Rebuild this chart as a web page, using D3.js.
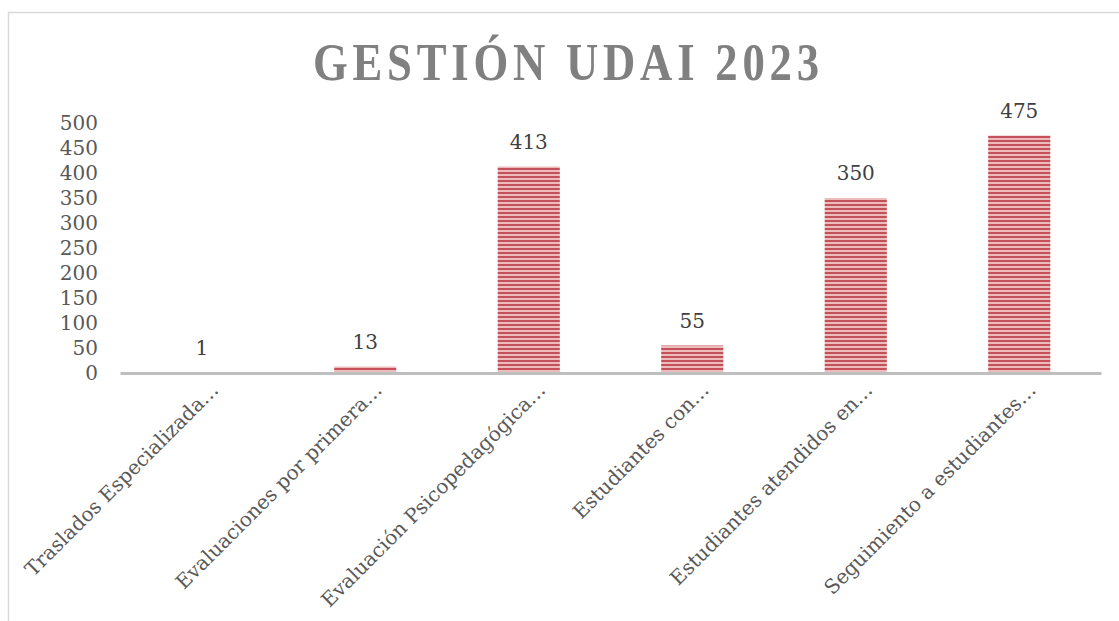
<!DOCTYPE html>
<html>
<head>
<meta charset="utf-8">
<title>Gestión UDAI 2023</title>
<script src="https://cdn.jsdelivr.net/npm/d3@7"></script>
<style>
  body { margin: 0; background: #fff; }
  text { font-family: "DejaVu Serif", "Liberation Serif", serif; }
</style>
</head>
<body>
<script>
var categorias = [
  "Traslados Especializada…",
  "Evaluaciones por primera…",
  "Evaluación Psicopedagógica…",
  "Estudiantes con…",
  "Estudiantes atendidos en…",
  "Seguimiento a estudiantes…"
];
var valores = [1, 13, 413, 55, 350, 475];
var ticksY = [0, 50, 100, 150, 200, 250, 300, 350, 400, 450, 500];
var titulo = "GESTIÓN UDAI 2023";

var width = 1119, height = 621;
var svg = d3.select("body").append("svg")
  .attr("width", width).attr("height", height);

// rayas horizontales de las barras
var defs = svg.append("defs");
var pat = defs.append("pattern")
  .attr("id", "rayas")
  .attr("patternUnits", "userSpaceOnUse")
  .attr("width", 8).attr("height", 4);
pat.append("rect").attr("width", 8).attr("height", 4).attr("fill", "#ecbcbc");
pat.append("rect").attr("width", 8).attr("height", 2).attr("fill", "#c4505a");

// marco del gráfico
svg.append("rect")
  .attr("x", 8.5).attr("y", 12.5)
  .attr("width", 1200).attr("height", 700)
  .attr("fill", "none")
  .attr("stroke", "#d9d9d9")
  .attr("stroke-width", 1.5);

var x = d3.scaleBand()
  .domain(categorias)
  .range([120, 1101])
  .paddingInner(0.62)
  .paddingOuter(0.31);

var y = d3.scaleLinear()
  .domain([0, 500])
  .range([373, 123]);

// título (letras estrechas y espaciadas)
var sx = 0.86;
svg.append("text")
  .attr("transform", "scale(" + sx + ",1)")
  .attr("x", 566 / sx).attr("y", 80)
  .attr("text-anchor", "middle")
  .attr("fill", "#808080")
  .style("font-family", "'Liberation Serif', serif")
  .style("font-size", "52px")
  .style("font-weight", "bold")
  .attr("textLength", 506 / sx)
  .attr("lengthAdjust", "spacing")
  .text(titulo);

// eje Y
var gy = svg.append("g")
  .attr("transform", "translate(120,0)")
  .call(d3.axisLeft(y).tickValues(ticksY).tickSize(0).tickPadding(22));
gy.select(".domain").remove();
gy.selectAll("text")
  .attr("fill", "#595959")
  .style("font-size", "20px")
  .style("font-family", "'DejaVu Serif', serif");

// barras
svg.selectAll("rect.barra")
  .data(valores)
  .enter().append("rect")
  .attr("class", "barra")
  .attr("x", function(d, i) { return x(categorias[i]); })
  .attr("y", function(d) { return y(d); })
  .attr("width", x.bandwidth())
  .attr("height", function(d) { return y(0) - y(d); })
  .attr("fill", "url(#rayas)");

// eje X
var gx = svg.append("g")
  .attr("transform", "translate(0," + y(0) + ")")
  .call(d3.axisBottom(x).tickSize(0).tickFormat(""));
gx.select(".domain")
  .attr("stroke", "#bfbfbf")
  .attr("stroke-width", 3);

// etiquetas del eje X
svg.selectAll("text.cat")
  .data(categorias)
  .enter().append("text")
  .attr("class", "cat")
  .attr("text-anchor", "end")
  .attr("fill", "#595959")
  .style("font-size", "20px")
  .attr("transform", function(d) {
    return "translate(" + (x(d) + x.bandwidth() / 2 + 18) + "," + 391 + ") rotate(-45)";
  })
  .text(function(d) { return d; });

// etiquetas de valor
svg.selectAll("text.valor")
  .data(valores)
  .enter().append("text")
  .attr("class", "valor")
  .attr("text-anchor", "middle")
  .attr("fill", "#404040")
  .style("font-size", "20px")
  .attr("x", function(d, i) { return x(categorias[i]) + x.bandwidth() / 2; })
  .attr("y", function(d) { return y(d) - 18; })
  .text(function(d) { return d; });
</script>
</body>
</html>
